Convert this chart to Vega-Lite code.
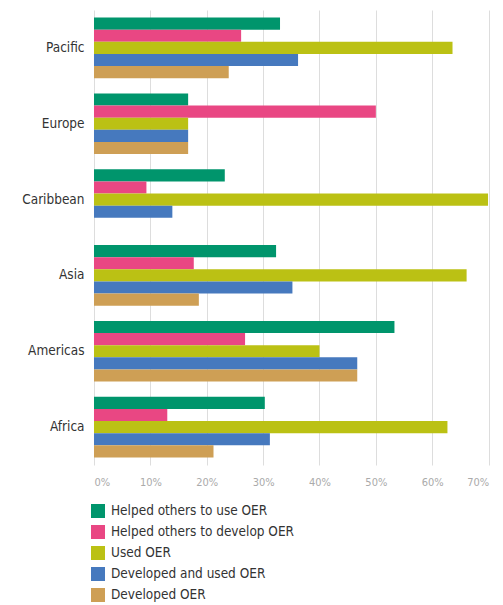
{
  "$schema": "https://vega.github.io/schema/vega-lite/v6.json",
  "width": 394.6,
  "height": 455,
  "padding": {"left": 10, "top": 10, "right": 5, "bottom": 0},
  "background": "white",
  "config": {"view": {"stroke": null}, "font": "'DejaVu Sans Condensed', Roboto, sans-serif"},
  "data": {
    "values": [
      {"region": "Pacific", "series": "Helped others to use OER", "value": 33},
      {"region": "Pacific", "series": "Helped others to develop OER", "value": 26.1},
      {"region": "Pacific", "series": "Used OER", "value": 63.6},
      {"region": "Pacific", "series": "Developed and used OER", "value": 36.2},
      {"region": "Pacific", "series": "Developed OER", "value": 23.9},
      {"region": "Europe", "series": "Helped others to use OER", "value": 16.7},
      {"region": "Europe", "series": "Helped others to develop OER", "value": 50},
      {"region": "Europe", "series": "Used OER", "value": 16.7},
      {"region": "Europe", "series": "Developed and used OER", "value": 16.7},
      {"region": "Europe", "series": "Developed OER", "value": 16.7},
      {"region": "Caribbean", "series": "Helped others to use OER", "value": 23.2},
      {"region": "Caribbean", "series": "Helped others to develop OER", "value": 9.3},
      {"region": "Caribbean", "series": "Used OER", "value": 69.9},
      {"region": "Caribbean", "series": "Developed and used OER", "value": 13.9},
      {"region": "Caribbean", "series": "Developed OER", "value": 0},
      {"region": "Asia", "series": "Helped others to use OER", "value": 32.3},
      {"region": "Asia", "series": "Helped others to develop OER", "value": 17.7},
      {"region": "Asia", "series": "Used OER", "value": 66.1},
      {"region": "Asia", "series": "Developed and used OER", "value": 35.2},
      {"region": "Asia", "series": "Developed OER", "value": 18.6},
      {"region": "Americas", "series": "Helped others to use OER", "value": 53.3},
      {"region": "Americas", "series": "Helped others to develop OER", "value": 26.8},
      {"region": "Americas", "series": "Used OER", "value": 40},
      {"region": "Americas", "series": "Developed and used OER", "value": 46.7},
      {"region": "Americas", "series": "Developed OER", "value": 46.7},
      {"region": "Africa", "series": "Helped others to use OER", "value": 30.3},
      {"region": "Africa", "series": "Helped others to develop OER", "value": 13},
      {"region": "Africa", "series": "Used OER", "value": 62.7},
      {"region": "Africa", "series": "Developed and used OER", "value": 31.2},
      {"region": "Africa", "series": "Developed OER", "value": 21.2}
    ]
  },
  "mark": {"type": "bar"},
  "encoding": {
    "y": {
      "field": "region",
      "type": "nominal",
      "sort": ["Pacific", "Europe", "Caribbean", "Asia", "Americas", "Africa"],
      "scale": {"paddingInner": 0.2, "paddingOuter": 0.1},
      "axis": {
        "title": null,
        "domain": false,
        "ticks": false,
        "labelFontSize": 13.5,
        "labelColor": "#333333",
        "labelPadding": 10,
        "minExtent": 84,
        "maxExtent": 84
      }
    },
    "yOffset": {
      "field": "series",
      "type": "nominal",
      "sort": ["Helped others to use OER", "Helped others to develop OER", "Used OER", "Developed and used OER", "Developed OER"],
      "scale": {"paddingInner": 0, "paddingOuter": 0}
    },
    "x": {
      "field": "value",
      "type": "quantitative",
      "scale": {"domain": [0, 70], "nice": false},
      "axis": {
        "title": null,
        "values": [0, 10, 20, 30, 40, 50, 60, 70],
        "labelExpr": "datum.value + '%'",
        "domain": false,
        "ticks": false,
        "grid": true,
        "gridColor": "#dddddd",
        "labelColor": "#aaaaaa",
        "labelFontSize": 11,
        "labelPadding": 12
      }
    },
    "color": {
      "field": "series",
      "type": "nominal",
      "sort": ["Helped others to use OER", "Helped others to develop OER", "Used OER", "Developed and used OER", "Developed OER"],
      "scale": {
        "domain": ["Helped others to use OER", "Helped others to develop OER", "Used OER", "Developed and used OER", "Developed OER"],
        "range": ["#00956C", "#E94783", "#BBC114", "#4679BE", "#CE9F55"]
      },
      "legend": {
        "title": null,
        "orient": "none",
        "legendX": -3,
        "legendY": 494,
        "direction": "vertical",
        "symbolType": "square",
        "symbolSize": 196,
        "symbolStrokeWidth": 0,
        "labelFontSize": 13.5,
        "labelLimit": 300,
        "labelColor": "#333333",
        "rowPadding": 7,
        "labelOffset": 6
      }
    }
  }
}
